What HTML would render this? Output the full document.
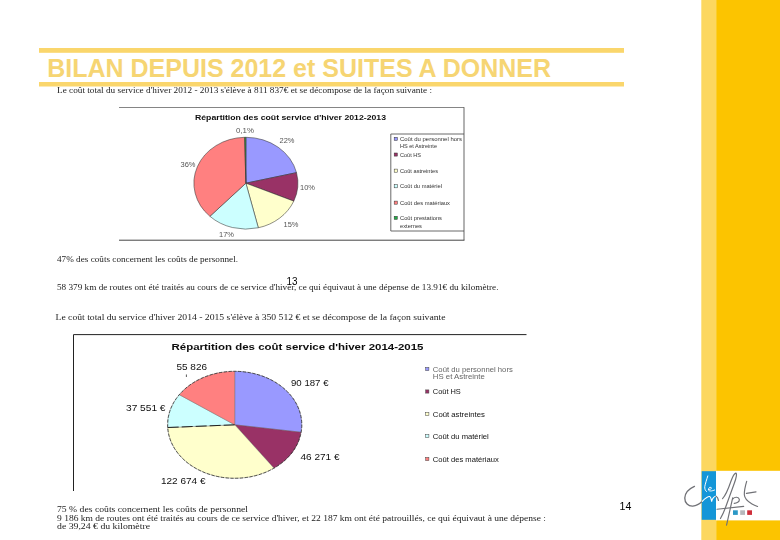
<!DOCTYPE html>
<html><head><meta charset="utf-8"><title>BILAN DEPUIS 2012 et SUITES A DONNER</title>
<style>
html,body{margin:0;padding:0;background:#fff;}
body{width:780px;height:540px;overflow:hidden;font-family:"Liberation Sans",sans-serif;}
svg{display:block;position:absolute;left:0;top:0;}
text{font-family:"Liberation Sans",sans-serif;fill:#222;}
.se{font-family:"Liberation Serif",serif;}
.b{font-weight:bold;}
</style></head><body>
<svg width="780" height="540" viewBox="0 0 780 540">
<defs><filter id="bl" x="-5%" y="-5%" width="110%" height="110%"><feGaussianBlur stdDeviation="0.35"/></filter></defs>
<rect x="0" y="0" width="780" height="540" fill="#ffffff"/>

<rect x="701.3" y="0" width="14.9" height="540" fill="#FCD760"/>
<rect x="716.2" y="0" width="63.8" height="540" fill="#FCC400"/>
<rect x="716" y="470.8" width="64" height="49.6" fill="#ffffff"/>
<rect x="701.7" y="471.2" width="14.3" height="48.6" fill="#1496D8"/>
<rect x="39" y="48" width="585" height="4.8" fill="#FAD66C"/>
<rect x="39" y="82" width="585" height="4.5" fill="#FAD66C"/>
<text x="47.2" y="76.7" font-size="25" font-weight="bold" style="fill:#F6D573">BILAN DEPUIS 2012 et SUITES A DONNER</text>
<g filter="url(#bl)">
<text x="57" y="92.5" font-size="7.5" textLength="375" lengthAdjust="spacingAndGlyphs" class="se">Le coût total du service d'hiver 2012 - 2013 s'élève à 811 837€ et se décompose de la façon suivante :</text>
<text x="57" y="262" font-size="7.5" textLength="181" lengthAdjust="spacingAndGlyphs" class="se">47% des coûts concernent les coûts de personnel.</text>
<text x="57" y="289.5" font-size="7.5" textLength="441.5" lengthAdjust="spacingAndGlyphs" class="se">58 379 km de routes ont été traités au cours de ce service d'hiver, ce qui équivaut à une dépense de 13.91€ du kilomètre.</text>
<clipPath id="c2"><rect x="40" y="314.8" width="600" height="20"/></clipPath><g clip-path="url(#c2)">
<text x="55.5" y="320.1" font-size="7.5" textLength="390" lengthAdjust="spacingAndGlyphs" class="se">Le coût total du service d'hiver 2014 - 2015 s'élève à 350 512 € et se décompose de la façon suivante</text>
</g>
<text x="57" y="511.9" font-size="7.5" textLength="191" lengthAdjust="spacingAndGlyphs" class="se">75 % des coûts concernent les coûts de personnel</text>
<text x="57" y="520.5" font-size="7.5" textLength="489" lengthAdjust="spacingAndGlyphs" class="se">9 186 km de routes ont été traités au cours de ce service d'hiver, et 22 187 km ont été patrouillés, ce qui équivaut à une dépense :</text>
<text x="57" y="529.4" font-size="7.5" textLength="93" lengthAdjust="spacingAndGlyphs" class="se">de 39,24 € du kilomètre</text>
</g>
<text x="286.4" y="284.9" font-size="10" textLength="11" lengthAdjust="spacingAndGlyphs" style="fill:#000">13</text>
<text x="619.5" y="510.2" font-size="11.5" textLength="11.8" lengthAdjust="spacingAndGlyphs" style="fill:#000">14</text>
<g filter="url(#bl)">
<path d="M119,107.5 H464" fill="none" stroke="#777" stroke-width="0.9"/>
<path d="M464,107.2 V240.3" fill="none" stroke="#555" stroke-width="0.9"/>
<path d="M119,240.2 H464.4" fill="none" stroke="#444" stroke-width="1"/>
<path d="M464,134 H390.8 V231 H464" fill="none" stroke="#444" stroke-width="0.8"/>
<text x="195" y="119.8" font-size="7.8" textLength="191" lengthAdjust="spacingAndGlyphs" class="b" style="fill:#111">Répartition des coût service d'hiver 2012-2013</text>
<path d="M245.90,183.20 L245.90,137.30 A52,45.9 0 0 1 296.51,172.64 Z" fill="#9999FF" stroke="#333" stroke-width="0.55" stroke-linejoin="round"/>
<path d="M245.90,183.20 L296.51,172.64 A52,45.9 0 0 1 293.77,201.13 Z" fill="#993366" stroke="#333" stroke-width="0.55" stroke-linejoin="round"/>
<path d="M245.90,183.20 L293.77,201.13 A52,45.9 0 0 1 258.30,227.78 Z" fill="#FFFFCC" stroke="#333" stroke-width="0.55" stroke-linejoin="round"/>
<path d="M245.90,183.20 L258.30,227.78 A52,45.9 0 0 1 209.91,216.33 Z" fill="#CCFFFF" stroke="#333" stroke-width="0.55" stroke-linejoin="round"/>
<path d="M245.90,183.20 L209.91,216.33 A52,45.9 0 0 1 244.63,137.31 Z" fill="#FF8080" stroke="#333" stroke-width="0.55" stroke-linejoin="round"/>
<path d="M245.90,183.20 L244.63,137.31 A52,45.9 0 0 1 245.90,137.30 Z" fill="#339933" stroke="#333" stroke-width="0.55" stroke-linejoin="round"/>
<text x="236" y="133" font-size="7" textLength="18" lengthAdjust="spacingAndGlyphs" style="fill:#555">0,1%</text>
<text x="279.5" y="143.3" font-size="7" textLength="15" lengthAdjust="spacingAndGlyphs" style="fill:#555">22%</text>
<text x="180.5" y="167" font-size="7" textLength="15" lengthAdjust="spacingAndGlyphs" style="fill:#555">36%</text>
<text x="300" y="190" font-size="7" textLength="15" lengthAdjust="spacingAndGlyphs" style="fill:#555">10%</text>
<text x="283.5" y="226.5" font-size="7" textLength="15" lengthAdjust="spacingAndGlyphs" style="fill:#555">15%</text>
<text x="219" y="237" font-size="7" textLength="15" lengthAdjust="spacingAndGlyphs" style="fill:#555">17%</text>
<rect x="394.2" y="137.3" width="3.1" height="3.1" fill="#9999FF" stroke="#333" stroke-width="0.5"/>
<text x="400" y="141" font-size="5.6" textLength="62" lengthAdjust="spacingAndGlyphs" style="fill:#333">Coût du personnel hors</text>
<rect x="394.2" y="153.0" width="3.1" height="3.1" fill="#993366" stroke="#333" stroke-width="0.5"/>
<text x="400" y="156.7" font-size="5.6" textLength="21" lengthAdjust="spacingAndGlyphs" style="fill:#333">Coût HS</text>
<rect x="394.2" y="169.10000000000002" width="3.1" height="3.1" fill="#FFFFCC" stroke="#333" stroke-width="0.5"/>
<text x="400" y="172.8" font-size="5.6" textLength="38" lengthAdjust="spacingAndGlyphs" style="fill:#333">Coût astreintes</text>
<rect x="394.2" y="184.70000000000002" width="3.1" height="3.1" fill="#CCFFFF" stroke="#333" stroke-width="0.5"/>
<text x="400" y="188.4" font-size="5.6" textLength="42" lengthAdjust="spacingAndGlyphs" style="fill:#333">Coût du matériel</text>
<rect x="394.2" y="201.10000000000002" width="3.1" height="3.1" fill="#FF8080" stroke="#333" stroke-width="0.5"/>
<text x="400" y="204.8" font-size="5.6" textLength="50" lengthAdjust="spacingAndGlyphs" style="fill:#333">Coût des matériaux</text>
<rect x="394.2" y="216.3" width="3.1" height="3.1" fill="#22AA44" stroke="#333" stroke-width="0.5"/>
<text x="400" y="220" font-size="5.6" textLength="42" lengthAdjust="spacingAndGlyphs" style="fill:#333">Coût prestations</text>
<text x="400" y="147.8" font-size="5.6" textLength="37" lengthAdjust="spacingAndGlyphs" style="fill:#333">HS et Astreinte</text>
<text x="400" y="227.5" font-size="5.6" textLength="22" lengthAdjust="spacingAndGlyphs" style="fill:#333">externes</text>
</g>
<g filter="url(#bl)">
<path d="M73.5,491 V334.6 H526.5" fill="none" stroke="#222" stroke-width="1"/>
<text x="171.5" y="349.9" font-size="9.8" textLength="252" lengthAdjust="spacingAndGlyphs" class="b" style="fill:#111">Répartition des coût service d'hiver 2014-2015</text>
<path d="M234.70,424.80 L234.70,371.30 A67.1,53.5 0 0 1 301.15,432.25 Z" fill="#9999FF" stroke="#555" stroke-width="0.35" stroke-linejoin="round"/>
<path d="M234.70,424.80 L301.15,432.25 A67.1,53.5 0 0 1 273.95,468.19 Z" fill="#993366" stroke="#555" stroke-width="0.35" stroke-linejoin="round"/>
<path d="M234.70,424.80 L273.95,468.19 A67.1,53.5 0 0 1 167.69,427.51 Z" fill="#FFFFCC" stroke="#555" stroke-width="0.35" stroke-linejoin="round"/>
<path d="M234.70,424.80 L167.69,427.51 A67.1,53.5 0 0 1 179.27,394.65 Z" fill="#CCFFFF" stroke="#555" stroke-width="0.35" stroke-linejoin="round"/>
<path d="M234.70,424.80 L179.27,394.65 A67.1,53.5 0 0 1 234.70,371.30 Z" fill="#FF8080" stroke="#555" stroke-width="0.35" stroke-linejoin="round"/>
<ellipse cx="234.7" cy="424.8" rx="67.1" ry="53.5" fill="none" stroke="#222" stroke-width="0.7" stroke-dasharray="3.2 1.6"/>
<path d="M167.69,427.51 L234.7,424.8" stroke="#111" stroke-width="0.9" stroke-dasharray="11 3" fill="none"/>
<path d="M186.4,374.5 v2.5" stroke="#111" stroke-width="0.7"/>
<text x="176.5" y="370" font-size="8.5" textLength="30.5" lengthAdjust="spacingAndGlyphs" style="fill:#111">55 826</text>
<text x="291" y="385.8" font-size="8.5" textLength="37.5" lengthAdjust="spacingAndGlyphs" style="fill:#111">90 187 €</text>
<text x="126" y="410.8" font-size="8.5" textLength="39.5" lengthAdjust="spacingAndGlyphs" style="fill:#111">37 551 €</text>
<text x="300.5" y="460" font-size="8.5" textLength="39" lengthAdjust="spacingAndGlyphs" style="fill:#111">46 271 €</text>
<text x="161" y="484" font-size="8.5" textLength="44.5" lengthAdjust="spacingAndGlyphs" style="fill:#111">122 674 €</text>
<rect x="425.7" y="367.4" width="3.2" height="3.2" fill="#9999FF" stroke="#444" stroke-width="0.5"/>
<text x="432.8" y="371.5" font-size="7.3" textLength="80" lengthAdjust="spacingAndGlyphs" style="fill:#666">Coût du personnel hors</text>
<rect x="425.7" y="389.9" width="3.2" height="3.2" fill="#993366" stroke="#444" stroke-width="0.5"/>
<text x="432.8" y="394.0" font-size="7.3" textLength="28" lengthAdjust="spacingAndGlyphs" style="fill:#111">Coût HS</text>
<rect x="425.7" y="412.4" width="3.2" height="3.2" fill="#FFFFCC" stroke="#444" stroke-width="0.5"/>
<text x="432.8" y="416.5" font-size="7.3" textLength="52" lengthAdjust="spacingAndGlyphs" style="fill:#111">Coût astreintes</text>
<rect x="425.7" y="434.4" width="3.2" height="3.2" fill="#CCFFFF" stroke="#444" stroke-width="0.5"/>
<text x="432.8" y="438.5" font-size="7.3" textLength="56" lengthAdjust="spacingAndGlyphs" style="fill:#111">Coût du matériel</text>
<rect x="425.7" y="457.4" width="3.2" height="3.2" fill="#FF8080" stroke="#444" stroke-width="0.5"/>
<text x="432.8" y="461.5" font-size="7.3" textLength="66" lengthAdjust="spacingAndGlyphs" style="fill:#111">Coût des matériaux</text>
<text x="432.8" y="379" font-size="7.3" textLength="52" lengthAdjust="spacingAndGlyphs" style="fill:#666">HS et Astreinte</text>
</g>
<g transform="translate(680,468) scale(0.11111)" fill="none" stroke-linecap="round" stroke-linejoin="round">
<path d="M130,165 C85,185 45,225 43,270 C42,315 75,345 115,343 C150,341 180,320 200,300" stroke="#707176" stroke-width="12"/>
<path d="M200,300 C225,275 250,255 268,257 C280,262 280,285 285,300 C290,275 310,250 325,255" stroke="#ffffff" stroke-width="10"/>
<path d="M250,72 C240,105 228,140 223,168 C221,185 228,205 238,212" stroke="#ffffff" stroke-width="9"/>
<path d="M255,195 C275,195 290,185 280,175 C265,168 252,185 258,200 C265,212 290,208 312,198" stroke="#ffffff" stroke-width="8"/>
<path d="M325,255 C338,262 343,275 346,292" stroke="#707176" stroke-width="11"/>
</g>
<g transform="translate(712,468) scale(0.11111)" fill="none" stroke="#707176" stroke-width="10.5" stroke-linecap="round" stroke-linejoin="round">
<path d="M95,275 C125,245 150,180 172,115 C185,80 200,50 214,46 C226,46 220,85 200,140 C175,210 145,290 120,360 C105,400 90,430 76,455"/>
<path d="M186,268 C172,330 155,410 131,515"/>
<path d="M188,277 C205,258 240,258 246,283 C248,305 222,318 200,318"/>
<path d="M45,371 L285,345"/>
<path d="M312,120 C300,160 290,205 291,240 C293,275 320,300 360,323 C380,334 395,340 410,346"/>
<path d="M310,228 L396,215"/>
</g>
<rect x="733" y="510.3" width="4.8" height="4.6" fill="#2B98C6"/>
<rect x="740.2" y="510.3" width="4.8" height="4.6" fill="#B7B8BC"/>
<rect x="747.2" y="510.3" width="4.8" height="4.6" fill="#CF2F3B"/>

</svg></body></html>
